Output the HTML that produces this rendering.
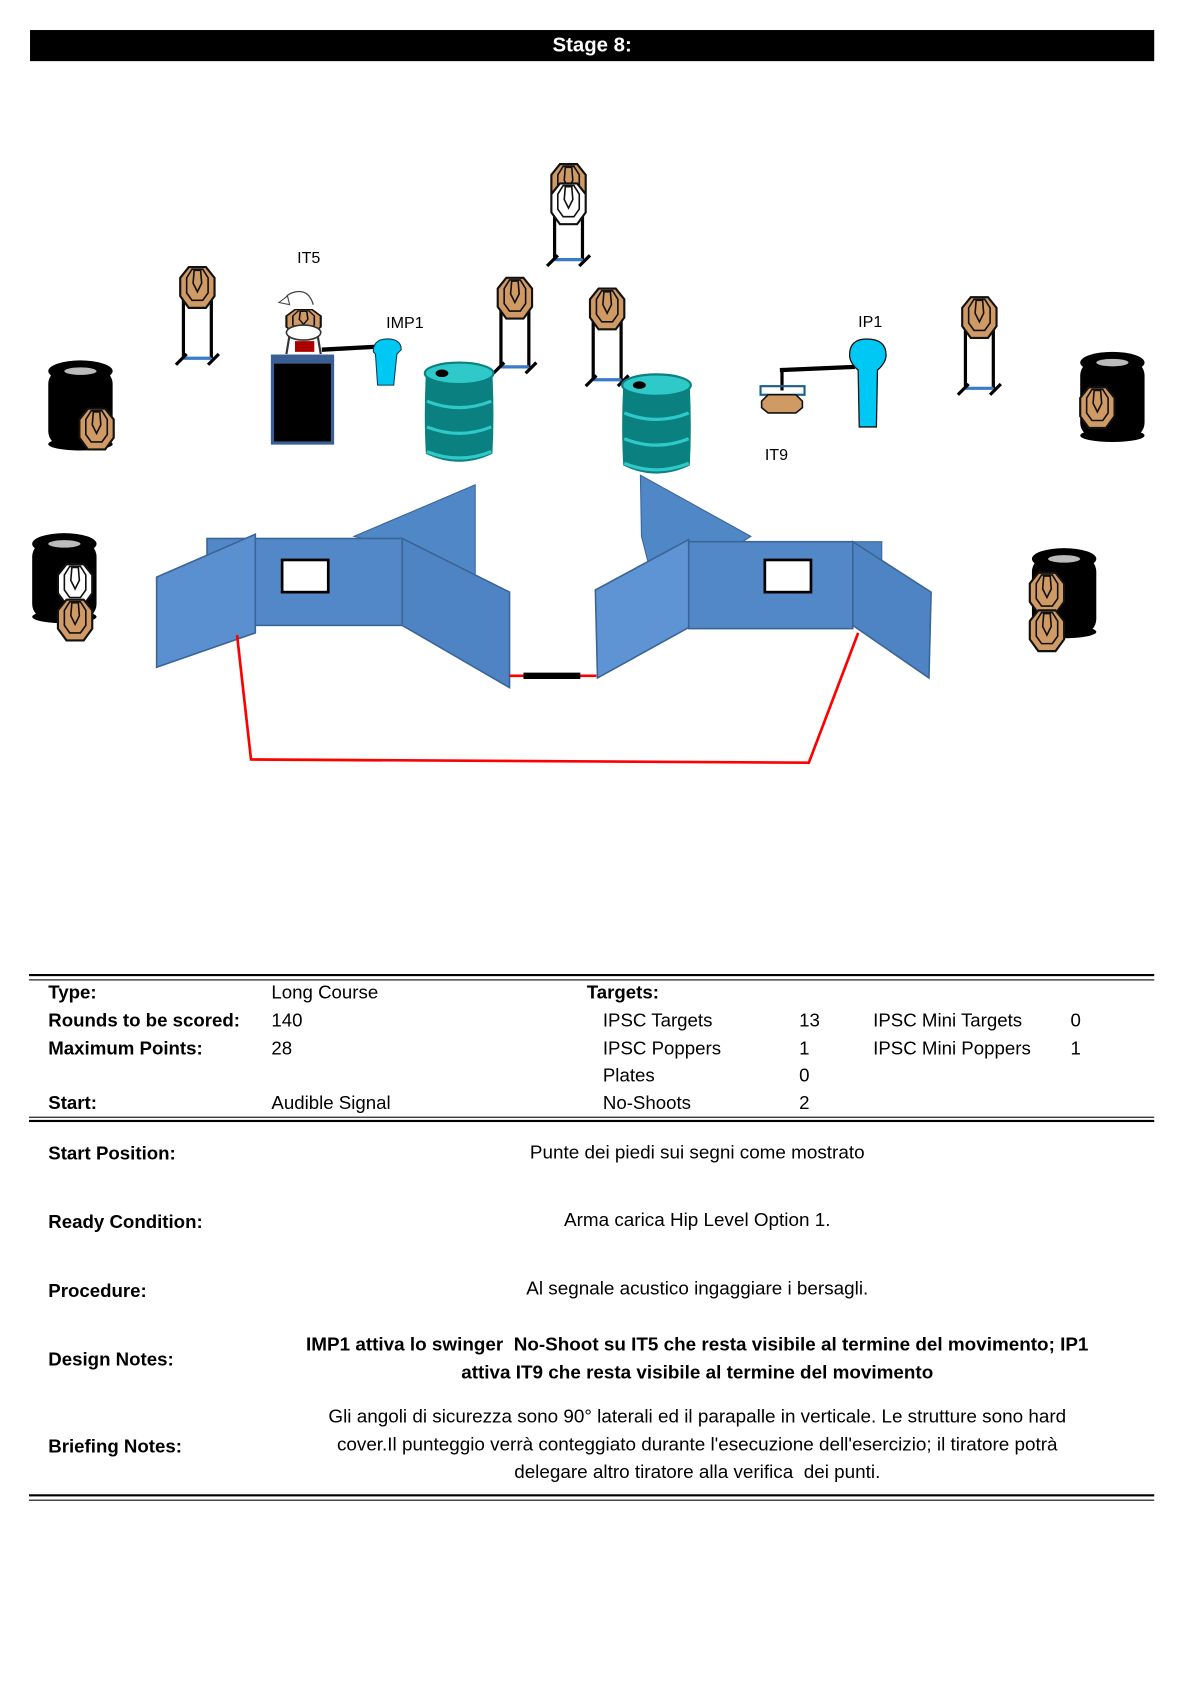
<!DOCTYPE html>
<html><head><meta charset="utf-8"><style>
html,body{margin:0;padding:0;background:#fff;width:1191px;height:1684px;overflow:hidden}
#w{position:absolute;left:0;top:0;width:1110px;height:1570px;transform:scale(1.0727);transform-origin:0 0;font-family:"Liberation Sans",sans-serif;color:#000}
.t{position:absolute;font-size:17.4px;white-space:nowrap}
.b{font-weight:bold}
.l{position:absolute;left:27px;width:1049px;height:0;border-top:2.5px solid #000}
.l2{position:absolute;left:27px;width:1049px;height:0;border-top:1px solid #000}
.c{position:absolute;left:250px;width:800px;text-align:center;font-size:17.6px;line-height:26px;white-space:nowrap}
</style></head><body><div id="w">
<div style="position:absolute;left:28px;top:28px;width:1048px;height:29px;background:#000;color:#fff;font-weight:bold;font-size:19px;text-align:center;line-height:29px">Stage 8:</div>
<svg style="position:absolute;left:0;top:0" width="1100" height="900" viewBox="0 0 1100 900">
<defs>
<g id="tg"><polygon points="-8,-19 8,-19 16,-9 16,8 8,19 -8,19 -16,8 -16,-9" fill="#d09a64" stroke="#111" stroke-width="2"/><polygon points="-5,-17 5,-17 10,-9 10,5 5,12 -5,12 -10,5 -10,-9" fill="none" stroke="#111" stroke-width="1.5"/><path d="M-3,-16 L3,-16 L4,-4 L0,4 L-4,-4 Z" fill="none" stroke="#111" stroke-width="1.5"/></g>
<g id="ns"><polygon points="-8,-19 8,-19 16,-9 16,8 8,19 -8,19 -16,8 -16,-9" fill="#fff" stroke="#111" stroke-width="2"/><polygon points="-5,-17 5,-17 10,-9 10,5 5,12 -5,12 -10,5 -10,-9" fill="none" stroke="#111" stroke-width="1.5"/><path d="M-3,-16 L3,-16 L4,-4 L0,4 L-4,-4 Z" fill="none" stroke="#111" stroke-width="1.5"/></g>
<g id="st"><line x1="-13" y1="0" x2="-13" y2="62" stroke="#000" stroke-width="3"/><line x1="13" y1="0" x2="13" y2="62" stroke="#000" stroke-width="3"/><line x1="-13" y1="62" x2="13" y2="62" stroke="#3a7bc8" stroke-width="3"/><line x1="-20" y1="68" x2="-10" y2="58" stroke="#000" stroke-width="3"/><line x1="10" y1="68" x2="20" y2="58" stroke="#000" stroke-width="3"/></g>
<g id="tire"><rect x="0" y="8" width="60" height="72" rx="14" fill="#000"/><ellipse cx="30" cy="10" rx="30" ry="10" fill="#000"/><ellipse cx="30" cy="10" rx="15" ry="3.5" fill="#bbb"/><ellipse cx="30" cy="78" rx="30" ry="6" fill="#000"/></g>
<g id="barrel"><path d="M2,10 Q0,50 2,85 Q33,100 64,85 Q66,50 64,10 Z" fill="#0b8080"/><ellipse cx="33" cy="10" rx="32" ry="10" fill="#2fc9c9" stroke="#0b8080" stroke-width="2"/><ellipse cx="17" cy="10" rx="6" ry="3.5" fill="#000"/><path d="M3,36 Q33,48 63,36 M3,60 Q33,72 63,60 M3,83 Q33,95 63,83" fill="none" stroke="#2fc9c9" stroke-width="3"/></g>
</defs>
<use href="#st" x="184" y="272"/><use href="#tg" x="184" y="268"/>
<use href="#st" x="530" y="180"/><use href="#tg" x="530" y="172"/><use href="#ns" x="530" y="190"/>
<use href="#st" x="480" y="280"/><use href="#tg" x="480" y="278"/>
<use href="#st" x="566" y="292"/><use href="#tg" x="566" y="288"/>
<use href="#st" x="913" y="300"/><use href="#tg" x="913" y="296"/>
<text x="277" y="245" font-size="15" font-family="Liberation Sans,sans-serif">IT5</text>
<path d="M292,284 Q288,270 276,272 Q266,274 266,280" fill="#fff" stroke="#444" stroke-width="1.2"/><path d="M260,282 L268,276 L270,284 Z" fill="#fff" stroke="#444" stroke-width="1"/>
<line x1="270" y1="312" x2="267" y2="330" stroke="#333" stroke-width="2"/><line x1="296" y1="312" x2="299" y2="330" stroke="#333" stroke-width="2"/>
<use href="#tg" x="283" y="300" transform="translate(283,300) scale(1,0.6) translate(-283,-300)"/>
<ellipse cx="283" cy="310" rx="16" ry="7" fill="#fff" stroke="#333" stroke-width="1.5"/>
<rect x="275" y="318" width="18" height="10" fill="#a00"/>
<rect x="254" y="332" width="56" height="81" fill="#000" stroke="#3c5f93" stroke-width="3"/>
<rect x="254" y="332" width="56" height="7" fill="#3c5f93"/>
<line x1="300" y1="326" x2="355" y2="323" stroke="#000" stroke-width="4"/>
<text x="360" y="306" font-size="15">IMP1</text>
<path d="M348,328 Q348,316 361,316 Q374,316 374,326 L370,330 L367,359 L352,359 L350,330 Z" fill="#00c8f5" stroke="#0a3d5a" stroke-width="1"/>
<use href="#barrel" x="395" y="338"/>
<use href="#barrel" x="579" y="349"/>
<text x="800" y="305" font-size="15">IP1</text>
<line x1="727" y1="345" x2="797" y2="342" stroke="#000" stroke-width="4"/>
<line x1="729" y1="343" x2="729" y2="364" stroke="#000" stroke-width="3"/>
<rect x="709" y="360" width="41" height="8" fill="none" stroke="#1a5f8a" stroke-width="2"/>
<polygon points="716,368 742,368 748,374 748,380 742,385 716,385 710,380 710,374" fill="#d09a64" stroke="#111" stroke-width="1.5"/>
<path d="M800,345 Q792,338 792,331 Q792,316 808,316 Q826,316 826,331 Q826,338 818,345 L817,398 L801,398 Z" fill="#00c8f5" stroke="#111" stroke-width="1.2"/>
<text x="713" y="429" font-size="15">IT9</text>
<use href="#tire" x="45" y="336"/><use href="#tg" x="90" y="400"/>
<use href="#tire" x="1007" y="328"/><use href="#tg" x="1023" y="380"/>
<use href="#tire" x="30" y="497"/><use href="#ns" x="70" y="545"/><use href="#tg" x="70" y="578"/>
<use href="#tire" x="962" y="511"/><use href="#tg" x="976" y="553"/><use href="#tg" x="976" y="588"/>
<polygon points="330,500 443,452 443,537 375,510" fill="#4f87c7" stroke="#3b6597"/>
<rect x="193" y="502" width="182" height="81" fill="#5288c8" stroke="#3b6597" stroke-width="1.5"/>
<polygon points="146,538 238,498 238,590 146,622" fill="#5b90d0" stroke="#3b6597" stroke-width="1.5"/>
<polygon points="375,502 475,552 475,641 375,583" fill="#4f84c4" stroke="#3b6597" stroke-width="1.5"/>
<rect x="263" y="522" width="43" height="30" fill="#fff" stroke="#000" stroke-width="2.5"/>
<polygon points="597,443 700,500 612,555 598,500" fill="#4f87c7" stroke="#3b6597"/>
<rect x="795" y="505" width="27" height="20" fill="#4f84c4" stroke="#3b6597"/>
<rect x="642" y="505" width="153" height="81" fill="#5288c8" stroke="#3b6597" stroke-width="1.5"/>
<polygon points="555,550 642,503 642,585 557,632" fill="#5e94d4" stroke="#3b6597" stroke-width="1.5"/>
<polygon points="795,505 868,552 866,632 795,583" fill="#4f84c4" stroke="#3b6597" stroke-width="1.5"/>
<rect x="713" y="522" width="43" height="30" fill="#fff" stroke="#000" stroke-width="2.5"/>
<polyline points="221,592 234,708 754,711 800,590" fill="none" stroke="#f00" stroke-width="2.5"/>
<line x1="475" y1="630" x2="556" y2="630" stroke="#f00" stroke-width="2.5"/>
<line x1="488" y1="630" x2="541" y2="630" stroke="#000" stroke-width="6"/>
</svg>
<div class="l" style="top:908px"></div><div class="l2" style="top:913px"></div>
<div class="t b" style="left:45px;top:915px">Type:</div><div class="t" style="left:253px;top:915px">Long Course</div><div class="t b" style="left:547px;top:915px">Targets:</div>
<div class="t b" style="left:45px;top:941px">Rounds to be scored:</div><div class="t" style="left:253px;top:941px">140</div>
<div class="t" style="left:562px;top:941px">IPSC Targets</div><div class="t" style="left:745px;top:941px">13</div><div class="t" style="left:814px;top:941px">IPSC Mini Targets</div><div class="t" style="left:998px;top:941px">0</div>
<div class="t b" style="left:45px;top:967px">Maximum Points:</div><div class="t" style="left:253px;top:967px">28</div>
<div class="t" style="left:562px;top:967px">IPSC Poppers</div><div class="t" style="left:745px;top:967px">1</div><div class="t" style="left:814px;top:967px">IPSC Mini Poppers</div><div class="t" style="left:998px;top:967px">1</div>
<div class="t" style="left:562px;top:992px">Plates</div><div class="t" style="left:745px;top:992px">0</div>
<div class="t b" style="left:45px;top:1018px">Start:</div><div class="t" style="left:253px;top:1018px">Audible Signal</div>
<div class="t" style="left:562px;top:1018px">No-Shoots</div><div class="t" style="left:745px;top:1018px">2</div>
<div class="l2" style="top:1041px"></div><div class="l" style="top:1044px"></div>
<div class="t b" style="left:45px;top:1065px">Start Position:</div><div class="c" style="top:1061px">Punte dei piedi sui segni come mostrato</div>
<div class="t b" style="left:45px;top:1129px">Ready Condition:</div><div class="c" style="top:1124px">Arma carica Hip Level Option 1.</div>
<div class="t b" style="left:45px;top:1193px">Procedure:</div><div class="c" style="top:1188px">Al segnale acustico ingaggiare i bersagli.</div>
<div class="t b" style="left:45px;top:1257px">Design Notes:</div><div class="c b" style="top:1240px">IMP1 attiva lo swinger&nbsp; No-Shoot su IT5 che resta visibile al termine del movimento; IP1<br>attiva IT9 che resta visibile al termine del movimento</div>
<div class="t b" style="left:45px;top:1338px">Briefing Notes:</div><div class="c" style="top:1307px">Gli angoli di sicurezza sono 90° laterali ed il parapalle in verticale. Le strutture sono hard<br>cover.Il punteggio verrà conteggiato durante l'esecuzione dell'esercizio; il tiratore potrà<br>delegare altro tiratore alla verifica&nbsp; dei punti.</div>
<div class="l" style="top:1393px"></div><div class="l2" style="top:1398px"></div>
</div></body></html>
